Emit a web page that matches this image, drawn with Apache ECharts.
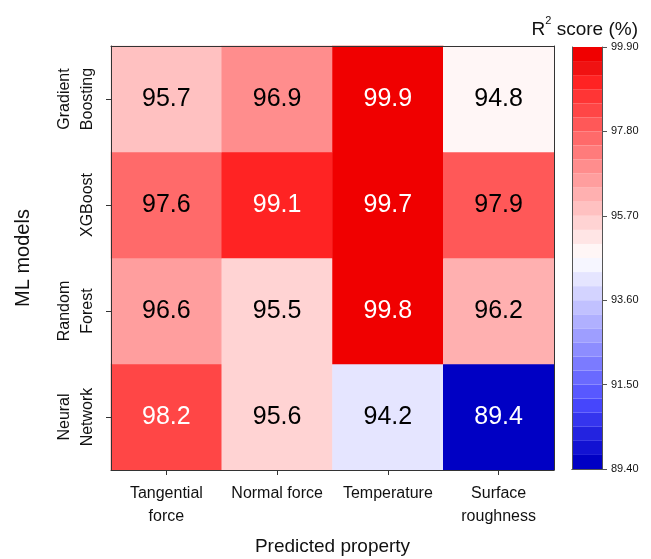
<!DOCTYPE html>
<html><head><meta charset="utf-8">
<script src="https://cdn.jsdelivr.net/npm/echarts@6/dist/echarts.min.js"></script>
<style>html,body{margin:0;padding:0;background:#fff}#c{width:651px;height:559px}</style>
</head><body><div id="c"></div>
<script>
// ---- data ----
const properties = ['Tangential\nforce', 'Normal force', 'Temperature', 'Surface\nroughness'];
const models = ['Neural\nNetwork', 'Random\nForest', 'XGBoost', 'Gradient\nBoosting']; // bottom -> top
const neuralNetwork = [98.2, 95.6, 94.2, 89.4];
const randomForest = [96.6, 95.5, 99.8, 96.2];
const xgboost = [97.6, 99.1, 99.7, 97.9];
const gradientBoosting = [95.7, 96.9, 99.9, 94.8];
const scaleMin = 89.4, scaleMax = 99.9, scaleSteps = 30;
const scaleTicks = [89.40, 91.50, 93.60, 95.70, 97.80, 99.90];

// ---- palette (blue - white - red, stepped) ----
function stepColor(k) {
  let r, g, b;
  const mid = (scaleSteps - 1) / 2;
  if (k > mid) {
    const t = (k - mid) / mid;
    g = Math.round(255 * (1 - t)); b = g;
    r = k >= scaleSteps - 2 ? 240 : 255;
  } else {
    const t = (mid - k) / mid;
    r = g = Math.round(255 * (1 - t));
    b = Math.min(255, 196 + 14 * k);
  }
  return 'rgb(' + r + ',' + g + ',' + b + ')';
}
const stepSize = (scaleMax - scaleMin) / scaleSteps;
const palette = [];
for (let k = 0; k < scaleSteps; k++) palette.push(stepColor(k));
const pieces = palette.map((c, k) => {
  const lo = +(scaleMin + k * stepSize).toFixed(2);
  const hi = +(scaleMin + (k + 1) * stepSize).toFixed(2);
  return k === scaleSteps - 1 ? { gte: lo, lte: hi, color: c } : { gte: lo, lt: hi, color: c };
});

const rows = [neuralNetwork, randomForest, xgboost, gradientBoosting];
const cells = [];
rows.forEach((row, yi) => row.forEach((v, xi) => {
  cells.push({
    value: [xi, yi, v],
    label: { color: (v >= 98 || v <= 91) ? '#ffffff' : '#000000' }
  });
}));

const FONT = 'Arial, "Liberation Sans", sans-serif';
const axisLineStyle = { color: '#333', width: 1 };

const cbSeries = palette.map((c, k) => ({
  type: 'bar', stack: 'cb', xAxisIndex: 2, yAxisIndex: 2,
  data: [stepSize], barWidth: '100%', silent: true,
  itemStyle: { color: c }
}));

const chart = echarts.init(document.getElementById('c'), null, { renderer: 'canvas' });
chart.setOption({
  animation: false,
  backgroundColor: '#fff',
  textStyle: { fontFamily: FONT },
  title: [{
    text: '{a|R}{s|2}{a| score (%)}',
    right: 8, top: 10,
    textStyle: {
      fontWeight: 'normal',
      rich: {
        a: { fontSize: 19, fontWeight: 'normal', fontFamily: FONT, color: '#111', verticalAlign: 'bottom', lineHeight: 24 },
        s: { fontSize: 11, fontWeight: 'normal', fontFamily: FONT, color: '#111', verticalAlign: 'top', lineHeight: 24 }
      }
    }
  }],
  grid: [
    { left: 111, top: 46, width: 443, height: 424, outerBoundsMode: 'none', containLabel: false },
    { left: 572, top: 47, width: 30, height: 422, outerBoundsMode: 'none', containLabel: false }
  ],
  xAxis: [
    {
      type: 'category', data: properties, gridIndex: 0, position: 'bottom', z: 10,
      name: 'Predicted property', nameLocation: 'middle', nameGap: 67,
      nameTextStyle: { fontSize: 19, color: '#111', fontFamily: FONT },
      axisLine: { show: true, lineStyle: axisLineStyle },
      axisTick: { show: true, alignWithLabel: true, interval: 0, length: 5, lineStyle: axisLineStyle },
      axisLabel: { interval: 0, fontSize: 16, color: '#111', lineHeight: 23, margin: 12, fontFamily: FONT },
      splitLine: { show: false }
    },
    {
      type: 'category', data: properties, gridIndex: 0, position: 'top', z: 10,
      axisLine: { show: true, lineStyle: axisLineStyle },
      axisTick: { show: false }, axisLabel: { show: false }, splitLine: { show: false }
    },
    {
      type: 'category', data: [''], gridIndex: 1, position: 'bottom', z: 10,
      axisLine: { show: true, lineStyle: { color: '#555', width: 1 } },
      axisTick: { show: false }, axisLabel: { show: false }
    },
    {
      type: 'category', data: [''], gridIndex: 1, position: 'top', z: 10,
      axisLine: { show: true, lineStyle: { color: '#555', width: 1 } },
      axisTick: { show: false }, axisLabel: { show: false }
    }
  ],
  yAxis: [
    {
      type: 'category', data: models, gridIndex: 0, position: 'left', z: 10,
      name: 'ML models', nameLocation: 'middle', nameGap: 78, nameRotate: 90,
      nameTextStyle: { fontSize: 20, color: '#111', fontFamily: FONT },
      axisLine: { show: true, lineStyle: axisLineStyle },
      axisTick: { show: true, alignWithLabel: true, interval: 0, length: 5, lineStyle: axisLineStyle },
      axisLabel: { interval: 0, rotate: 90, fontSize: 16, color: '#111', lineHeight: 23, margin: 12, fontFamily: FONT },
      splitLine: { show: false }
    },
    {
      type: 'category', data: models, gridIndex: 0, position: 'right', z: 10,
      axisLine: { show: true, lineStyle: axisLineStyle },
      axisTick: { show: false }, axisLabel: { show: false }, splitLine: { show: false }
    },
    {
      type: 'value', gridIndex: 1, position: 'right', z: 10,
      min: 0, max: scaleMax - scaleMin, interval: scaleTicks[1] - scaleTicks[0],
      axisLine: { show: true, lineStyle: { color: '#555', width: 1 } },
      axisTick: { show: true, length: 5, lineStyle: { color: '#555' } },
      axisLabel: { fontSize: 11, color: '#111', margin: 9, fontFamily: FONT,
        formatter: v => (scaleMin + v).toFixed(2) },
      splitLine: { show: false }
    },
    {
      type: 'value', gridIndex: 1, position: 'left', z: 10,
      min: 0, max: scaleMax - scaleMin,
      axisLine: { show: true, lineStyle: { color: '#555', width: 1 } },
      axisTick: { show: false }, axisLabel: { show: false }, splitLine: { show: false }
    }
  ],
  visualMap: {
    type: 'piecewise', show: false, seriesIndex: 0, dimension: 2, pieces: pieces
  },
  series: [
    {
      type: 'heatmap', xAxisIndex: 0, yAxisIndex: 0, data: cells,
      label: { show: true, fontSize: 25, fontFamily: FONT,
        formatter: p => p.value[2].toFixed(1) },
      itemStyle: { borderWidth: 0 },
      emphasis: { disabled: true }
    }
  ].concat(cbSeries)
});
</script></body></html>
